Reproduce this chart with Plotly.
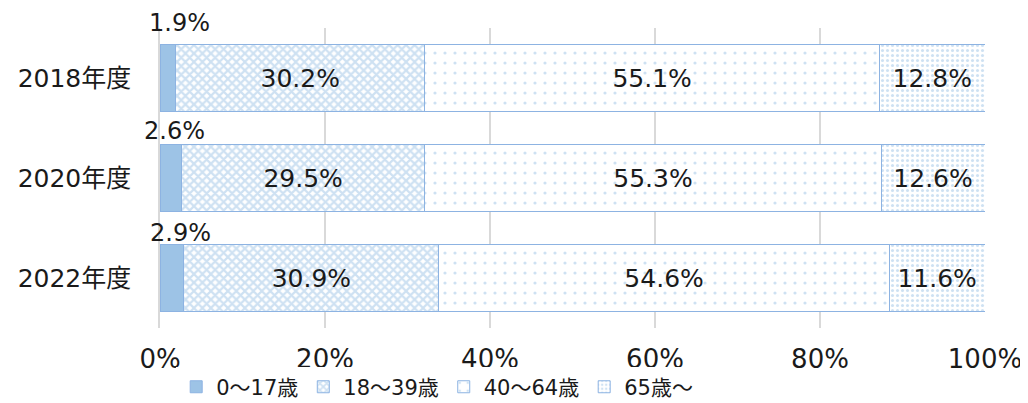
import plotly.graph_objects as go

# Data
years = ["2018年度", "2020年度", "2022年度"]
groups = ["0～17歳", "18～39歳", "40～64歳", "65歳～"]
shares = {
    "0～17歳": [1.9, 2.6, 2.9],
    "18～39歳": [30.2, 29.5, 30.9],
    "40～64歳": [55.1, 55.3, 54.6],
    "65歳～": [12.8, 12.6, 11.6],
}
x_ticks = [0, 20, 40, 60, 80, 100]

FONT = "DejaVu Sans, Noto Sans CJK JP"
BLUE = "#9DC3E6"
EDGE = "#8DB3E2"
INK = "#1a1a1a"

patterns = {
    "0～17歳": dict(shape=""),
    "18～39歳": dict(shape="x", fgcolor=BLUE, bgcolor="white", size=6, solidity=0.6),
    "40～64歳": dict(shape=".", fgcolor=BLUE, bgcolor="white", size=10, solidity=0.08),
    "65歳～": dict(shape=".", fgcolor=BLUE, bgcolor="white", size=5, solidity=0.3),
}

fig = go.Figure()
for g in groups:
    solid = g == "0～17歳"
    fig.add_trace(go.Bar(
        y=years,
        x=shares[g],
        name=g,
        orientation="h",
        marker=dict(
            color=BLUE if solid else "white",
            line=dict(color=EDGE, width=1),
            pattern=patterns[g],
        ),
        text=None if solid else [f"{v:.1f}%" for v in shares[g]],
        textposition="inside",
        insidetextanchor="middle",
        textangle=0,
        textfont=dict(family=FONT, size=25, color=INK),
        width=0.67,
        hoverinfo="x+name",
    ))

# labels for the thin first segment sit above the bar
x_nudge = [12, 4, 9]
y_nudge = [55, 47, 45]
for y, v, dx, dy in zip(years, shares["0～17歳"], x_nudge, y_nudge):
    fig.add_annotation(
        x=v / 2, y=y, text=f"{v:.1f}%", showarrow=False,
        xshift=dx, yshift=dy, yanchor="middle",
        font=dict(family=FONT, size=24, color=INK),
    )

# page body adds an 8px margin, so the figure is 8px smaller on each side
fig.update_layout(
    barmode="stack",
    width=1020, height=395,
    margin=dict(l=152, r=43, t=20, b=75, autoexpand=False),
    plot_bgcolor="white",
    paper_bgcolor="white",
    font=dict(family=FONT, size=22, color=INK),
    uniformtext=dict(minsize=8, mode="show"),
    legend=dict(
        orientation="h", x=0.336, xanchor="center", y=-0.197, yanchor="middle",
        font=dict(family=FONT, size=21, color=INK),
        traceorder="normal", itemwidth=30,
    ),
)
fig.update_xaxes(
    range=[0, 100], tickvals=x_ticks, ticktext=[f"{t}%" for t in x_ticks],
    showgrid=True, gridcolor="#d9d9d9", gridwidth=1.5,
    zeroline=False, ticks="", tickfont=dict(size=26), ticklabelstandoff=13,
)
fig.update_yaxes(
    range=[2.5, -0.5], showline=True, linecolor="#d9d9d9", linewidth=1.5,
    ticks="", tickfont=dict(size=25), ticklabelstandoff=22,
)

fig.write_html("out.html")
